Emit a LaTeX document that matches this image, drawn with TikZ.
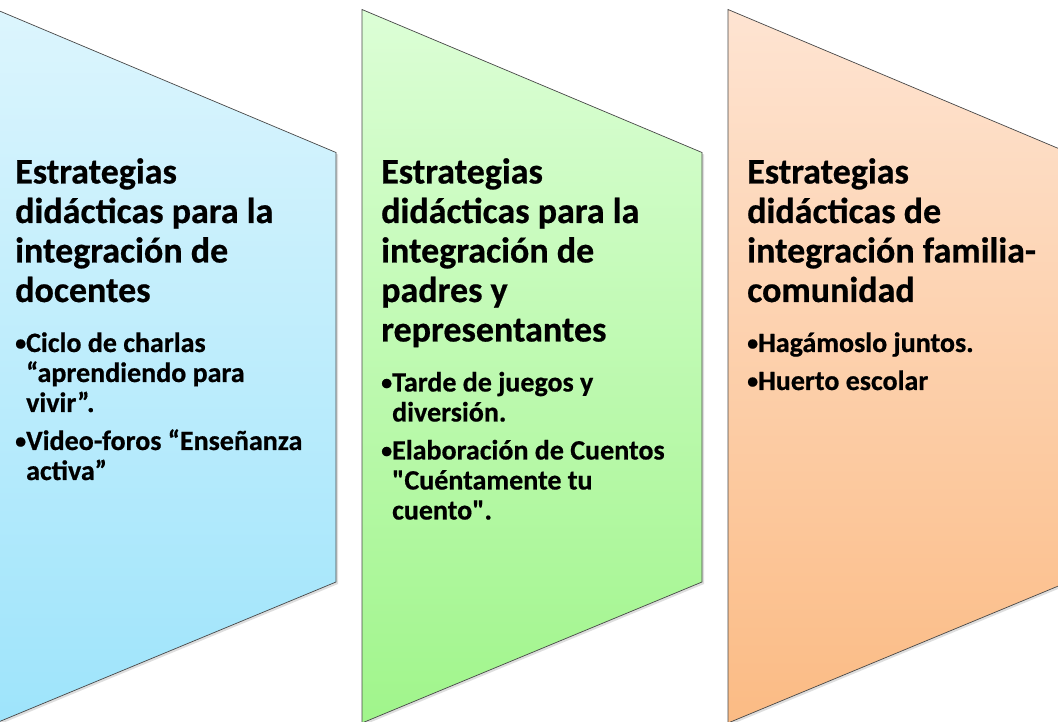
\documentclass[tikz,border=0pt]{standalone}
\usepackage{fontspec}
\setmainfont{Carlito}[Ligatures=TeXOff, BoldFeatures={FakeBold=0.6}]
\definecolor{blueT}{HTML}{DCF5FD}
\definecolor{blueB}{HTML}{9EE4FB}
\definecolor{greenT}{HTML}{DCFED6}
\definecolor{greenB}{HTML}{A0F58B}
\definecolor{orangeT}{HTML}{FEE4D2}
\definecolor{orangeB}{HTML}{FBBB84}
\newlength\bulw
\newcommand\titlefont{\fontsize{36}{39.5}\selectfont}
\newcommand\itemfont{\fontsize{28}{30}\selectfont}
\newcommand\bulglyph{\raisebox{1.8pt}{\fontsize{22}{30}\selectfont •}}
\newcommand\bul{\par\noindent\settowidth{\bulw}{\bulglyph}\hangindent=\bulw\hangafter=1 \bulglyph}
\newcommand\panelbox[1]{\parbox[t]{380pt}{\raggedright\hyphenpenalty=10000 #1}}
\tikzset{
  panelline/.style={draw=black!72, line width=0.7pt},
  panelshadow/.style={fill=black, opacity=0.13},
  paneltext/.style={anchor=base west, inner sep=0pt, font=\bfseries},
}
\begin{document}
\begin{tikzpicture}[x=1pt,y=-1pt]
\useasboundingbox (0,0) rectangle (1058,722);
\clip (0,0) rectangle (1058,722);
\foreach \L/\ct/\cb in {-4/blueT/blueB, 362/greenT/greenB, 728/orangeT/orangeB}{
  \fill[panelshadow] (\L+2,11.5) -- (\L+342,154.5) -- (\L+342,584) -- (\L+2,725) -- cycle;
  \shade[top color=\ct, bottom color=\cb] (\L,9.5) -- (\L+340,152.5) -- (\L+340,582) -- (\L,723) -- cycle;
  \draw[panelline] (\L,9.5) -- (\L+340,152.5) -- (\L+340,582) -- (\L,723) -- cycle;
}
\node[paneltext] (t1) at (15,183.5) {\panelbox{\titlefont Estrategias\\didácticas para la\\integración de\\docentes\par
  \vspace{20pt}\itemfont
  \bul Ciclo de charlas\newline “aprendiendo para\newline vivir”.\par
  \vspace{8pt}
  \bul Video-foros “Enseñanza\newline activa”\par}};
\node[paneltext] (t2) at (381,183.5) {\panelbox{\titlefont Estrategias\\didácticas para la\\integración de\\padres y\\representantes\par
  \vspace{20pt}\itemfont
  \bul Tarde de juegos y\newline diversión.\par
  \vspace{8pt}
  \bul Elaboración de Cuentos\newline "Cuéntamente tu\newline cuento".\par}};
\node[paneltext] (t3) at (747,183.5) {\panelbox{\titlefont Estrategias\\didácticas de\\integración familia-\\comunidad\par
  \vspace{20pt}\itemfont
  \bul Hagámoslo juntos.\par
  \vspace{8pt}
  \bul Huerto escolar\par}};
\end{tikzpicture}
\end{document}
